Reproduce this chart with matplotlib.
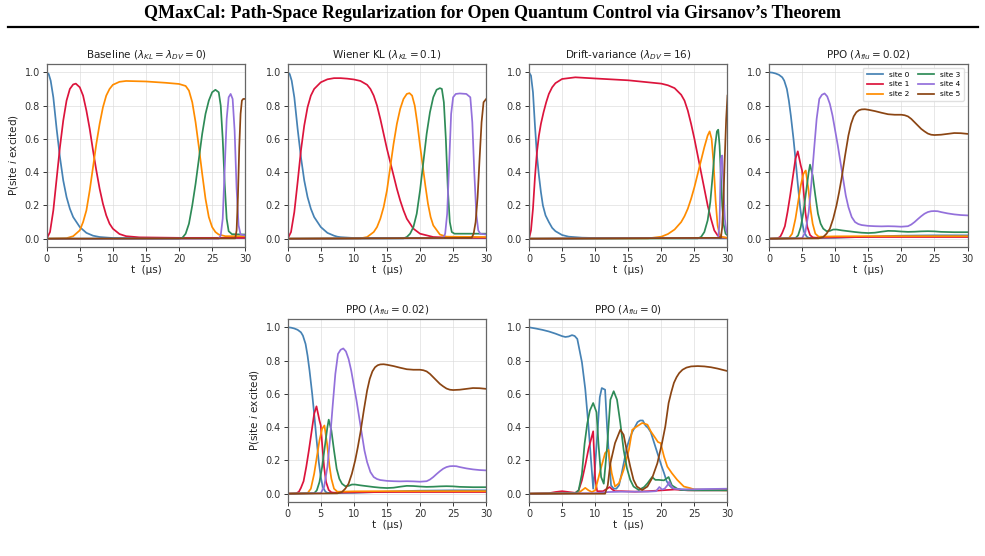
import matplotlib

matplotlib.use("Agg")

import matplotlib.pyplot as plt
from matplotlib.lines import Line2D

# ---------------------------------------------------------------- data
# Baseline (lambda_KL = lambda_DV = 0)
base_t0 = [0, 0.3, 0.6, 1.0, 1.5, 2.0, 2.5, 3.0, 3.5, 4.0, 5.0, 6.0, 7.0, 8.0, 10, 15, 20, 25, 30]
base_p0 = [1.0, 0.99, 0.95, 0.85, 0.66, 0.49, 0.35, 0.25, 0.18, 0.13, 0.07, 0.035, 0.018, 0.01, 0.004, 0.003, 0.003, 0.003, 0.003]
base_t1 = [0, 0.5, 1.0, 1.5, 2.0, 2.5, 3.0, 3.5, 4.0, 4.4, 5.0, 5.5, 6.0, 6.5, 7.0, 7.5, 8.0, 8.5, 9.0, 9.5, 10, 11, 12, 14, 20, 30]
base_p1 = [0, 0.04, 0.17, 0.36, 0.55, 0.71, 0.83, 0.9, 0.927, 0.932, 0.91, 0.86, 0.77, 0.66, 0.53, 0.41, 0.3, 0.21, 0.14, 0.09, 0.06, 0.028, 0.015, 0.008, 0.005, 0.005]
base_t2 = [0, 3, 4, 5, 5.5, 6, 6.5, 7, 7.5, 8, 8.5, 9, 9.5, 10, 11, 12, 15, 18, 20, 21, 21.5, 22, 22.5, 23, 23.5, 24, 24.5, 25, 25.5, 26, 27, 30]
base_p2 = [0, 0.003, 0.015, 0.05, 0.1, 0.17, 0.29, 0.43, 0.57, 0.69, 0.79, 0.86, 0.9, 0.925, 0.943, 0.948, 0.945, 0.937, 0.93, 0.918, 0.89, 0.82, 0.7, 0.55, 0.39, 0.24, 0.13, 0.07, 0.04, 0.025, 0.015, 0.015]
base_t3 = [0, 20, 20.5, 21, 21.5, 22, 22.5, 23, 23.5, 24, 24.5, 25, 25.5, 26, 26.3, 26.6, 26.9, 27.2, 27.5, 28, 30]
base_p3 = [0, 0, 0.005, 0.03, 0.09, 0.2, 0.33, 0.48, 0.63, 0.75, 0.83, 0.88, 0.895, 0.88, 0.8, 0.6, 0.33, 0.12, 0.045, 0.027, 0.025]
base_t4 = [0, 26, 26.3, 26.6, 26.9, 27.2, 27.5, 27.8, 28.1, 28.4, 28.7, 29.0, 29.3, 30]
base_p4 = [0, 0, 0.02, 0.12, 0.42, 0.72, 0.85, 0.87, 0.84, 0.65, 0.3, 0.08, 0.025, 0.02]
base_t5 = [0, 28.5, 28.7, 28.9, 29.1, 29.3, 29.5, 29.7, 30]
base_p5 = [0, 0.002, 0.05, 0.25, 0.55, 0.75, 0.83, 0.84, 0.84]

# Wiener KL (lambda_KL = 0.1)
kl_t0 = [0, 0.3, 0.6, 1.0, 1.5, 2.0, 2.5, 3.0, 3.5, 4.0, 5.0, 6.0, 7.0, 7.5, 8.0, 10, 15, 20, 25, 30]
kl_p0 = [1.0, 0.99, 0.95, 0.85, 0.66, 0.49, 0.35, 0.25, 0.18, 0.13, 0.07, 0.035, 0.018, 0.012, 0.009, 0.004, 0.003, 0.003, 0.003, 0.003]
kl_t1 = [0, 0.5, 1.0, 1.5, 2.0, 2.5, 3.0, 3.5, 4.0, 5.0, 6.0, 7.0, 8.0, 9.0, 10, 11, 12, 12.5, 13, 13.5, 14, 14.5, 15, 15.5, 16, 16.5, 17, 17.5, 18, 19, 20, 22, 25, 30]
kl_p1 = [0, 0.04, 0.16, 0.34, 0.53, 0.68, 0.79, 0.86, 0.9, 0.94, 0.958, 0.965, 0.965, 0.962, 0.957, 0.948, 0.925, 0.9, 0.86, 0.8, 0.72, 0.63, 0.54, 0.46, 0.38, 0.3, 0.23, 0.17, 0.12, 0.06, 0.03, 0.01, 0.006, 0.005]
kl_t2 = [0, 11, 12, 13, 13.5, 14, 14.5, 15, 15.5, 16, 16.5, 17, 17.5, 18, 18.4, 18.8, 19.2, 19.6, 20, 20.4, 20.8, 21.2, 21.6, 22, 23, 24, 30]
kl_p2 = [0, 0.002, 0.01, 0.04, 0.07, 0.12, 0.19, 0.29, 0.43, 0.57, 0.69, 0.78, 0.84, 0.87, 0.875, 0.86, 0.8, 0.69, 0.56, 0.44, 0.32, 0.21, 0.13, 0.08, 0.025, 0.012, 0.01]
kl_t3 = [0, 17.5, 18, 18.5, 19, 19.5, 20, 20.5, 21, 21.5, 22, 22.5, 23, 23.3, 23.6, 23.9, 24.2, 24.5, 24.8, 25.2, 30]
kl_p3 = [0, 0.002, 0.01, 0.03, 0.07, 0.15, 0.29, 0.46, 0.63, 0.76, 0.85, 0.895, 0.905, 0.9, 0.82, 0.6, 0.3, 0.1, 0.04, 0.03, 0.03]
kl_t4 = [0, 23.5, 23.8, 24.1, 24.4, 24.7, 25.0, 25.4, 26, 27, 27.6, 27.9, 28.2, 28.5, 28.8, 29.1, 30]
kl_p4 = [0, 0.003, 0.03, 0.15, 0.45, 0.75, 0.85, 0.87, 0.873, 0.87, 0.85, 0.7, 0.4, 0.15, 0.05, 0.03, 0.025]
kl_t5 = [0, 27.8, 28.1, 28.4, 28.7, 29.0, 29.3, 29.6, 30]
kl_p5 = [0, 0.005, 0.03, 0.1, 0.25, 0.48, 0.7, 0.82, 0.84]

# Drift-variance (lambda_DV = 16)
dv_t0 = [0, 0.3, 0.6, 0.9, 1.2, 1.5, 1.8, 2.1, 2.5, 3.0, 3.5, 4.0, 5.0, 6.0, 8.0, 10, 30]
dv_p0 = [1.0, 0.98, 0.88, 0.68, 0.5, 0.38, 0.28, 0.2, 0.14, 0.1, 0.065, 0.045, 0.022, 0.012, 0.006, 0.004, 0.002]
dv_t1 = [0, 0.3, 0.6, 0.9, 1.2, 1.5, 1.8, 2.2, 2.6, 3.0, 3.5, 4.0, 5.0, 7.0, 10, 15, 20, 21, 22, 23, 23.5, 24, 24.5, 25, 25.5, 26, 26.5, 27, 27.5, 28, 28.5, 29, 30]
dv_p1 = [0, 0.05, 0.18, 0.37, 0.52, 0.62, 0.69, 0.76, 0.82, 0.87, 0.91, 0.935, 0.96, 0.97, 0.963, 0.952, 0.932, 0.922, 0.905, 0.865, 0.83, 0.77, 0.69, 0.6, 0.5, 0.4, 0.3, 0.2, 0.12, 0.05, 0.02, 0.008, 0.005]
dv_t2 = [0, 18, 20, 21, 22, 23, 23.5, 24, 24.5, 25, 25.5, 26, 26.5, 27, 27.3, 27.6, 27.9, 28.2, 28.5, 28.8, 29.2, 30]
dv_p2 = [0, 0.002, 0.012, 0.028, 0.055, 0.1, 0.135, 0.18, 0.24, 0.31, 0.39, 0.47, 0.55, 0.62, 0.645, 0.6, 0.45, 0.23, 0.08, 0.025, 0.01, 0.005]
dv_t3 = [0, 25.5, 26.0, 26.5, 27.0, 27.4, 27.8, 28.1, 28.4, 28.6, 28.8, 29.0, 29.2, 29.4, 29.7, 30]
dv_p3 = [0, 0.002, 0.01, 0.04, 0.11, 0.22, 0.4, 0.55, 0.645, 0.655, 0.56, 0.38, 0.2, 0.09, 0.03, 0.02]
dv_t4 = [0, 28.6, 28.8, 29.0, 29.2, 29.4, 29.6, 29.8, 30]
dv_p4 = [0, 0.005, 0.1, 0.48, 0.5, 0.3, 0.12, 0.05, 0.03]
dv_t5 = [0, 29.0, 29.2, 29.4, 29.6, 29.8, 30]
dv_p5 = [0, 0.005, 0.07, 0.25, 0.5, 0.72, 0.86]

# PPO (lambda_flu = 0.02)
flu_t0 = [0, 0.5, 1.0, 1.5, 2.0, 2.3, 2.7, 3.0, 3.3, 3.7, 4.0, 4.3, 4.7, 5.0, 5.3, 5.7, 6.0, 8, 10, 12, 15, 18, 20, 25, 30]
flu_p0 = [1.0, 0.998, 0.993, 0.985, 0.97, 0.95, 0.9, 0.83, 0.74, 0.6, 0.48, 0.35, 0.19, 0.1, 0.04, 0.012, 0.005, 0.004, 0.005, 0.008, 0.012, 0.016, 0.018, 0.02, 0.02]
flu_t1 = [0, 1.3, 1.7, 2.0, 2.4, 2.8, 3.2, 3.6, 4.0, 4.35, 4.8, 5.0, 5.2, 5.5, 5.8, 6.2, 6.6, 7.0, 10, 15, 20, 25, 30]
flu_p1 = [0, 0.002, 0.012, 0.035, 0.075, 0.16, 0.26, 0.37, 0.48, 0.525, 0.44, 0.41, 0.3, 0.16, 0.07, 0.022, 0.008, 0.006, 0.008, 0.01, 0.01, 0.01, 0.01]
flu_t2 = [0, 3.0, 3.5, 4.0, 4.4, 4.8, 5.2, 5.55, 5.95, 6.3, 6.6, 7.0, 7.5, 8, 10, 15, 20, 25, 30]
flu_p2 = [0, 0.003, 0.03, 0.12, 0.22, 0.32, 0.39, 0.41, 0.3, 0.17, 0.09, 0.03, 0.012, 0.012, 0.014, 0.015, 0.015, 0.015, 0.015]
flu_t3 = [0, 4.0, 4.4, 4.8, 5.2, 5.6, 6.0, 6.2, 6.6, 7.0, 7.4, 7.8, 8.2, 8.7, 9.2, 9.7, 10.2, 11, 12, 13, 14, 15, 16, 17, 18, 19, 20, 21, 22, 23, 24, 25, 26, 28, 30]
flu_p3 = [0, 0.003, 0.02, 0.07, 0.16, 0.28, 0.4, 0.445, 0.38, 0.26, 0.15, 0.09, 0.06, 0.045, 0.047, 0.055, 0.055, 0.05, 0.045, 0.04, 0.036, 0.034, 0.036, 0.042, 0.047, 0.046, 0.043, 0.041, 0.042, 0.044, 0.045, 0.044, 0.041, 0.039, 0.039]
flu_t4 = [0, 5.0, 5.5, 6.0, 6.4, 6.8, 7.2, 7.6, 8.0, 8.4, 8.8, 9.2, 9.6, 10.0, 10.4, 10.8, 11.2, 11.6, 12.0, 12.5, 13, 13.5, 14, 15, 16, 17, 18, 19, 20, 21, 21.5, 22, 22.5, 23, 23.5, 24, 24.5, 25, 25.5, 26, 27, 28, 29, 30]
flu_p4 = [0, 0.003, 0.04, 0.16, 0.33, 0.53, 0.72, 0.84, 0.865, 0.873, 0.855, 0.81, 0.74, 0.65, 0.56, 0.46, 0.36, 0.26, 0.19, 0.13, 0.1, 0.088, 0.082, 0.077, 0.075, 0.074, 0.075, 0.074, 0.072, 0.075, 0.085, 0.1, 0.118, 0.135, 0.15, 0.16, 0.165, 0.166, 0.165, 0.16, 0.152, 0.146, 0.142, 0.14]
flu_t5 = [0, 7.5, 8.2, 8.7, 9.2, 9.7, 10.2, 10.6, 11.0, 11.5, 12.0, 12.4, 12.8, 13.2, 13.6, 14.0, 14.5, 15, 16, 17, 18, 19, 20, 20.5, 21, 21.5, 22, 22.5, 23, 23.5, 24, 24.5, 25, 26, 27, 28, 29, 30]
flu_p5 = [0, 0.002, 0.01, 0.03, 0.06, 0.12, 0.2, 0.28, 0.37, 0.5, 0.62, 0.69, 0.735, 0.76, 0.772, 0.777, 0.778, 0.775, 0.767, 0.757, 0.748, 0.745, 0.745, 0.742, 0.735, 0.72, 0.7, 0.68, 0.66, 0.645, 0.632, 0.625, 0.623, 0.625, 0.63, 0.635, 0.634, 0.63]

# PPO (lambda_flu = 0)
nof_t0 = [0, 1, 2, 3, 4, 5, 5.5, 6.0, 6.5, 6.9, 7.3, 7.7, 8.0, 8.5, 9.0, 9.3, 9.7, 10.0, 10.4, 10.7, 11.0, 11.5, 11.8, 12.1, 12.4, 12.8, 13.2, 13.6, 14.0, 14.4, 14.8, 15.2, 15.6, 16.0, 16.4, 16.8, 17.2, 17.6, 18.0, 18.4, 18.8, 19.2, 19.6, 20.0, 20.4, 20.8, 21.2, 21.6, 22.0, 23, 25, 30]
nof_p0 = [1.0, 0.993, 0.985, 0.975, 0.962, 0.947, 0.942, 0.945, 0.953, 0.948, 0.93, 0.85, 0.79, 0.63, 0.4, 0.24, 0.03, 0.17, 0.4, 0.58, 0.635, 0.625, 0.4, 0.22, 0.05, 0.03, 0.03, 0.05, 0.12, 0.2, 0.28, 0.33, 0.37, 0.4, 0.43, 0.44, 0.44, 0.41, 0.395, 0.37, 0.32, 0.27, 0.22, 0.17, 0.125, 0.075, 0.05, 0.035, 0.03, 0.025, 0.025, 0.025]
nof_t1 = [0, 3, 4, 5, 6, 7, 7.5, 8.0, 8.5, 9.0, 9.4, 9.7, 10.0, 10.3, 10.7, 11.2, 11.8, 12.2, 12.6, 13.0, 14, 16, 18, 20, 22, 24, 30]
nof_p1 = [0, 0.003, 0.01, 0.015, 0.01, 0.005, 0.02, 0.08, 0.17, 0.27, 0.33, 0.375, 0.09, 0.015, 0.015, 0.015, 0.03, 0.04, 0.025, 0.015, 0.015, 0.012, 0.015, 0.02, 0.025, 0.02, 0.02]
nof_t2 = [0, 7.5, 8.0, 8.5, 9.0, 9.5, 10.0, 10.4, 10.8, 11.2, 11.5, 12.0, 12.5, 13.0, 13.6, 14.3, 15.1, 15.6, 16.3, 17.1, 17.5, 17.9, 18.4, 19.1, 19.5, 19.9, 20.4, 20.9, 21.6, 22.4, 23.4, 24.4, 25, 30]
nof_p2 = [0, 0.005, 0.02, 0.035, 0.02, 0.01, 0.02, 0.08, 0.143, 0.2, 0.244, 0.264, 0.123, 0.043, 0.063, 0.143, 0.264, 0.384, 0.404, 0.425, 0.42, 0.415, 0.375, 0.334, 0.31, 0.304, 0.224, 0.163, 0.123, 0.083, 0.043, 0.033, 0.025, 0.02]
nof_t3 = [0, 7.0, 7.5, 8.0, 8.4, 8.8, 9.2, 9.7, 10.2, 10.5, 10.9, 11.3, 11.8, 12.3, 12.8, 13.3, 13.8, 14.3, 14.8, 15.3, 15.8, 16.6, 17.4, 17.9, 18.6, 19.1, 19.6, 20.4, 21.1, 21.6, 22.4, 23, 25, 30]
nof_p3 = [0, 0.003, 0.02, 0.12, 0.3, 0.42, 0.5, 0.545, 0.49, 0.3, 0.1, 0.06, 0.28, 0.565, 0.616, 0.565, 0.425, 0.264, 0.153, 0.083, 0.043, 0.022, 0.04, 0.062, 0.1, 0.083, 0.083, 0.08, 0.1, 0.05, 0.03, 0.022, 0.02, 0.02]
nof_t4 = [0, 10, 12, 14, 16, 18, 19.2, 19.7, 20.1, 20.5, 20.9, 21.2, 21.5, 21.9, 22.5, 23.5, 25, 27, 30]
nof_p4 = [0, 0.003, 0.01, 0.012, 0.012, 0.012, 0.015, 0.04, 0.025, 0.03, 0.05, 0.072, 0.045, 0.03, 0.028, 0.025, 0.026, 0.028, 0.03]
nof_t5 = [0, 5, 11.5, 11.9, 12.3, 13.0, 13.8, 14.3, 14.8, 15.3, 15.8, 16.3, 17.1, 17.9, 18.6, 19.4, 20.1, 20.6, 21.1, 21.5, 21.9, 22.3, 22.7, 23.2, 23.8, 24.5, 25.5, 26.5, 27.5, 28.5, 29.5, 30]
nof_p5 = [0, 0.0, 0.0, 0.05, 0.183, 0.304, 0.384, 0.354, 0.254, 0.163, 0.083, 0.043, 0.022, 0.043, 0.093, 0.183, 0.304, 0.404, 0.545, 0.61, 0.666, 0.7, 0.725, 0.745, 0.758, 0.765, 0.767, 0.765, 0.76, 0.752, 0.742, 0.737]

site_labels = ["site 0", "site 1", "site 2", "site 3", "site 4", "site 5"]
site_colors = ["#4682B4", "#DC143C", "#FF8C00", "#2E8B57", "#9370DB", "#8B4513"]

baseline = [(base_t0, base_p0), (base_t1, base_p1), (base_t2, base_p2),
            (base_t3, base_p3), (base_t4, base_p4), (base_t5, base_p5)]
wiener = [(kl_t0, kl_p0), (kl_t1, kl_p1), (kl_t2, kl_p2),
          (kl_t3, kl_p3), (kl_t4, kl_p4), (kl_t5, kl_p5)]
drift = [(dv_t0, dv_p0), (dv_t1, dv_p1), (dv_t2, dv_p2),
         (dv_t3, dv_p3), (dv_t4, dv_p4), (dv_t5, dv_p5)]
ppo_flu = [(flu_t0, flu_p0), (flu_t1, flu_p1), (flu_t2, flu_p2),
           (flu_t3, flu_p3), (flu_t4, flu_p4), (flu_t5, flu_p5)]
ppo_noflu = [(nof_t0, nof_p0), (nof_t1, nof_p1), (nof_t2, nof_p2),
             (nof_t3, nof_p3), (nof_t4, nof_p4), (nof_t5, nof_p5)]

# (title, series, ylabel?, legend?, [left, bottom] in pixels)
W, H = 985, 556
AX_W, AX_H = 198.5, 183
panels = [
    (r"Baseline ($\lambda_{KL} = \lambda_{DV} = 0$)", baseline, True, False, (46.7, 247)),
    (r"Wiener KL ($\lambda_{KL} = 0.1$)", wiener, False, False, (287.7, 247)),
    (r"Drift-variance ($\lambda_{DV} = 16$)", drift, False, False, (529, 247)),
    (r"PPO ($\lambda_{flu} = 0.02$)", ppo_flu, False, True, (769, 247)),
    (r"PPO ($\lambda_{flu} = 0.02$)", ppo_flu, True, False, (287.7, 502)),
    (r"PPO ($\lambda_{flu} = 0$)", ppo_noflu, False, False, (529, 502)),
]

plt.rcParams["font.family"] = ["DejaVu Sans"]
plt.rcParams["mathtext.fontset"] = "dejavusans"

fig = plt.figure(figsize=(W / 100, H / 100), dpi=100)
fig.patch.set_facecolor("white")

fig.text(0.5, 1 - 14 / H, "QMaxCal: Path-Space Regularization for Open Quantum Control via Girsanov\u2019s Theorem",
         ha="center", va="center", fontsize=13, fontweight="bold", family="Liberation Serif")
fig.add_artist(Line2D([8 / W, 978 / W], [1 - 27 / H] * 2, color="black", lw=1.6))

for title, series, show_ylabel, show_legend, (px, py) in panels:
    axis = fig.add_axes([px / W, 1 - py / H, AX_W / W, AX_H / H])
    for (t, p), color, label in zip(series, site_colors, site_labels):
        axis.plot(t, p, color=color, lw=1.25, label=label)
    axis.set_xlim(0, 30)
    axis.set_ylim(-0.05, 1.05)
    axis.set_xticks([0, 5, 10, 15, 20, 25, 30])
    axis.set_yticks([0.0, 0.2, 0.4, 0.6, 0.8, 1.0])
    axis.grid(True, color="#d9d9d9", lw=0.6, alpha=0.7)
    axis.set_axisbelow(True)
    for spine in axis.spines.values():
        spine.set_color("#666666")
        spine.set_linewidth(0.9)
    axis.tick_params(labelsize=7, colors="#333333", length=3, width=0.7, pad=2)
    axis.set_title(title, fontsize=7.5, pad=4, color="#222222")
    axis.set_xlabel("t  (\u03bcs)", fontsize=7.5, labelpad=1, color="#222222")
    if show_ylabel:
        axis.set_ylabel(r"P(site $i$ excited)", fontsize=7.5, labelpad=3, color="#222222")
    if show_legend:
        axis.legend(loc="upper right", ncol=2, fontsize=5.3, handlelength=2.2,
                    columnspacing=1.2, labelspacing=0.5, borderpad=0.5,
                    framealpha=0.9, edgecolor="#dddddd")

fig.savefig("out.png", dpi=100)
